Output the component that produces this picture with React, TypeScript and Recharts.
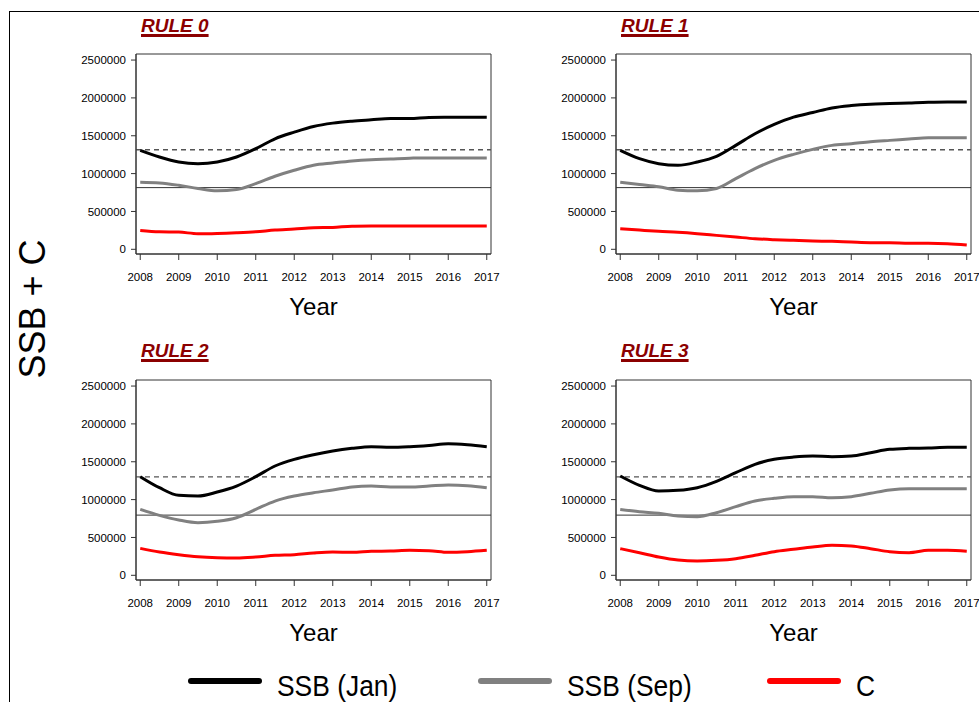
import React from 'react';
import {
  LineChart,
  Line,
  XAxis,
  YAxis,
  ReferenceLine,
  ReferenceArea,
} from 'recharts';

// half-year steps, 2008 - 2017
const years = [
  2008, 2008.5, 2009, 2009.5, 2010, 2010.5, 2011, 2011.5, 2012, 2012.5,
  2013, 2013.5, 2014, 2014.5, 2015, 2015.5, 2016, 2016.5, 2017,
];
const yearTicks = [2008, 2009, 2010, 2011, 2012, 2013, 2014, 2015, 2016, 2017];
const valueTicks = [0, 500000, 1000000, 1500000, 2000000, 2500000];

const ruleNames = ['RULE 0', 'RULE 1', 'RULE 2', 'RULE 3'];

// SSB (Jan)
const janRule0 = [1307000, 1219000, 1153000, 1131000, 1153000, 1219000, 1329000, 1460000, 1548000, 1623000, 1667000, 1693000, 1711000, 1728000, 1728000, 1742000, 1744000, 1745000, 1746000];
const janRule1 = [1307000, 1197000, 1131000, 1110000, 1153000, 1228000, 1373000, 1526000, 1649000, 1746000, 1807000, 1868000, 1899000, 1917000, 1925000, 1934000, 1943000, 1947000, 1947000];
const janRule2 = [1303000, 1157000, 1056000, 1047000, 1100000, 1179000, 1303000, 1444000, 1532000, 1593000, 1642000, 1677000, 1699000, 1690000, 1699000, 1716000, 1738000, 1725000, 1699000];
const janRule3 = [1312000, 1188000, 1113000, 1122000, 1157000, 1241000, 1355000, 1466000, 1532000, 1562000, 1576000, 1567000, 1576000, 1620000, 1664000, 1677000, 1681000, 1690000, 1690000];

// SSB (Sep)
const sepRule0 = [886000, 877000, 846000, 803000, 772000, 789000, 868000, 965000, 1044000, 1110000, 1140000, 1167000, 1184000, 1193000, 1204000, 1206000, 1206000, 1206000, 1206000];
const sepRule1 = [886000, 855000, 825000, 781000, 772000, 803000, 934000, 1066000, 1175000, 1254000, 1320000, 1373000, 1395000, 1421000, 1439000, 1456000, 1474000, 1474000, 1474000];
const sepRule2 = [871000, 792000, 731000, 695000, 713000, 761000, 871000, 981000, 1047000, 1091000, 1127000, 1166000, 1179000, 1166000, 1166000, 1179000, 1193000, 1184000, 1157000];
const sepRule3 = [871000, 841000, 819000, 783000, 775000, 827000, 907000, 981000, 1017000, 1039000, 1039000, 1025000, 1039000, 1083000, 1127000, 1144000, 1144000, 1144000, 1144000];

// C
const cRule0 = [250000, 232000, 228000, 206000, 210000, 219000, 232000, 254000, 268000, 285000, 289000, 305000, 307000, 307000, 307000, 307000, 307000, 307000, 307000];
const cRule1 = [272000, 254000, 237000, 224000, 206000, 184000, 162000, 140000, 127000, 118000, 110000, 105000, 96000, 88000, 88000, 79000, 79000, 75000, 57000];
const cRule2 = [356000, 308000, 273000, 246000, 233000, 229000, 242000, 264000, 273000, 295000, 308000, 304000, 317000, 321000, 330000, 326000, 304000, 312000, 330000];
const cRule3 = [352000, 299000, 242000, 202000, 189000, 198000, 220000, 264000, 312000, 343000, 374000, 396000, 387000, 352000, 312000, 299000, 330000, 330000, 317000];

// reference points (dashed upper, solid lower)
const upperRef = [1315000, 1315000, 1300000, 1300000];
const lowerRef = [815000, 815000, 795000, 795000];

const janAll = [janRule0, janRule1, janRule2, janRule3];
const sepAll = [sepRule0, sepRule1, sepRule2, sepRule3];
const cAll = [cRule0, cRule1, cRule2, cRule3];

const series = [
  { key: 'jan', name: 'SSB (Jan)', color: '#000000' },
  { key: 'sep', name: 'SSB (Sep)', color: '#808080' },
  { key: 'c', name: 'C', color: '#ff0000' },
];

const FONT = '"Liberation Sans", Arial, Helvetica, sans-serif';
const X_DOMAIN = [2007.89, 2017.11];
const Y_DOMAIN = [-62000, 2580000];

// plot box top-left corners
const boxes = [
  { x: 136, y: 54 },
  { x: 616, y: 54 },
  { x: 136, y: 380 },
  { x: 616, y: 380 },
];
const titleTops = [16, 16, 341, 341];

const Y_AXIS_W = 70;
const PLOT_W = 355;
const PLOT_H = 200;
const TOP_M = 10;
const X_AXIS_H = 72;

function Panel({ idx }: { idx: number }) {
  const rows = years.map((year, i) => ({
    year,
    jan: janAll[idx][i],
    sep: sepAll[idx][i],
    c: cAll[idx][i],
  }));
  const box = boxes[idx];
  const tickStyle = { fontSize: 11.5, fill: '#000', fontFamily: FONT };

  return (
    <div style={{ position: 'absolute', left: box.x - Y_AXIS_W, top: box.y - TOP_M }}>
      <LineChart
        width={Y_AXIS_W + PLOT_W + 10}
        height={TOP_M + PLOT_H + X_AXIS_H}
        data={rows}
        margin={{ top: TOP_M, right: 10, bottom: 0, left: 0 }}
      >
        <XAxis
          dataKey="year"
          type="number"
          domain={X_DOMAIN}
          ticks={yearTicks}
          allowDataOverflow
          height={X_AXIS_H}
          tickSize={6}
          tickMargin={13}
          tick={tickStyle}
          stroke="#333"
          label={{
            value: 'Year',
            position: 'insideBottom',
            offset: 11,
            style: { fontSize: 24, fill: '#000', fontFamily: FONT },
          }}
        />
        <YAxis
          type="number"
          domain={Y_DOMAIN}
          ticks={valueTicks}
          allowDataOverflow
          width={Y_AXIS_W}
          tickSize={5}
          tickMargin={5}
          tick={tickStyle}
          stroke="#333"
          interval={0}
        />
        <ReferenceArea
          x1={X_DOMAIN[0]}
          x2={X_DOMAIN[1]}
          y1={Y_DOMAIN[0]}
          y2={Y_DOMAIN[1]}
          fill="none"
          stroke="#333"
          strokeWidth={1}
        />
        <ReferenceLine y={upperRef[idx]} stroke="#555" strokeDasharray="5 4" strokeWidth={1.3} />
        <ReferenceLine y={lowerRef[idx]} stroke="#333" strokeWidth={1} />
        {series.map((s) => (
          <Line
            key={s.key}
            dataKey={s.key}
            name={s.name}
            type="monotone"
            stroke={s.color}
            strokeWidth={3}
            dot={false}
            isAnimationActive={false}
          />
        ))}
      </LineChart>
    </div>
  );
}

export default function App() {
  return (
    <div
      style={{
        position: 'absolute',
        left: 0,
        top: 0,
        width: 979,
        height: 702,
        background: '#fff',
        overflow: 'hidden',
        fontFamily: FONT,
      }}
    >
      {/* outer frame */}
      <div
        style={{
          position: 'absolute',
          left: 9,
          top: 11,
          width: 980,
          height: 700,
          borderTop: '1px solid #000',
          borderLeft: '1px solid #000',
        }}
      />

      {/* shared y label */}
      <div
        style={{
          position: 'absolute',
          left: 33,
          top: 309,
          transform: 'translate(-50%, -50%) rotate(-90deg)',
          fontSize: 36,
          whiteSpace: 'nowrap',
          lineHeight: '36px',
        }}
      >
        SSB + C
      </div>

      {ruleNames.map((name, i) => (
        <div
          key={name}
          style={{
            position: 'absolute',
            left: boxes[i].x + 5,
            top: titleTops[i],
            fontSize: 19,
            lineHeight: '19px',
            fontWeight: 'bold',
            fontStyle: 'italic',
            color: '#8b0000',
            textDecoration: 'underline',
            textDecorationThickness: '3px',
            textUnderlineOffset: '2px',
            whiteSpace: 'nowrap',
          }}
        >
          {name}
        </div>
      ))}

      {ruleNames.map((_, i) => (
        <Panel key={i} idx={i} />
      ))}

      {/* legend */}
      {series.map((s, i) => {
        const x = [188, 478, 767][i];
        return (
          <React.Fragment key={s.key}>
            <div
              style={{
                position: 'absolute',
                left: x,
                top: 678,
                width: 74,
                height: 6,
                borderRadius: 3,
                background: s.color,
              }}
            />
            <div
              style={{
                position: 'absolute',
                left: x + 89,
                top: 671,
                fontSize: 30,
                lineHeight: '30px',
                transform: 'scaleX(0.88)',
                transformOrigin: 'left center',
                whiteSpace: 'nowrap',
                color: '#000',
              }}
            >
              {s.name}
            </div>
          </React.Fragment>
        );
      })}
    </div>
  );
}
